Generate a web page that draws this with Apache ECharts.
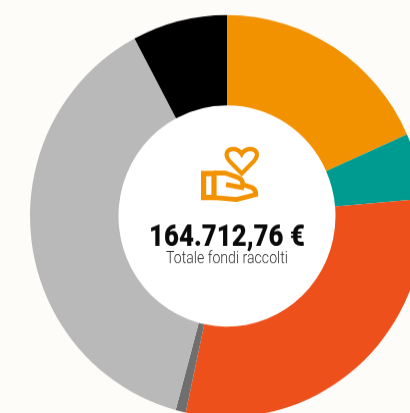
<!DOCTYPE html>
<html>
<head>
<meta charset="utf-8">
<style>
    html, body { margin: 0; padding: 0; background: #fdfcf8; width: 410px; height: 413px; }
    /* the reference donut is slightly taller than wide */
    #chart { width: 410px; height: 405px; transform: scaleY(1.02); transform-origin: 0 0; }
</style>
<script src="https://cdn.jsdelivr.net/npm/echarts@6/dist/echarts.min.js"></script>
</head>
<body>
<div id="chart"></div>
<script>
// values, they add up to the total in the middle
var sliceNames = ['A', 'B', 'C', 'D', 'E', 'F'];
var sliceValues = [30197, 8739, 48956, 1373, 62636, 12811.76];
var sliceColors = ['#f39200', '#009b90', '#ee501c', '#706f6f', '#b9b9b9', '#000000'];
var totalLabel = '164.712,76 €';
var subLabel = 'Totale fondi raccolti';

var stretch = 1.02;
var centerX = 227, centerY = 216 / stretch;

// hand + heart icon
echarts.graphic.registerShape('iconHeart', echarts.graphic.extendPath(
    'M241.7 173.5L229.5 161C224 154.5 227 149 233 149C237 149 240 151 241.7 154C243.4 151 246.4 149 250.5 149C256.5 149 259.5 154.5 254 161Z'
));
echarts.graphic.registerShape('iconCuff', echarts.graphic.extendPath(
    'M203.6 173.5H214V197.5H203.6Z'
));
echarts.graphic.registerShape('iconHand', echarts.graphic.extendPath(
    'M214 173L225 173L238 177.5C242 179 244 183 242 187.5L226 184.5M243 184.5L252 187.5C255 189 255.8 191 255.8 194.5L236.5 199.5L214 197.5'
));

var chartDom = document.getElementById('chart');
var myChart = echarts.init(chartDom);

myChart.setOption({
    animation: false,
    backgroundColor: '#fdfcf8',
    series: [
        {
            type: 'pie',
            center: [centerX, centerY],
            radius: [108.5, 197],
            startAngle: 90,
            silent: true,
            label: { show: false },
            labelLine: { show: false },
            data: sliceNames.map(function (name, i) {
                return { name: name, value: sliceValues[i], itemStyle: { color: sliceColors[i] } };
            })
        }
    ],
    graphic: [
        // white disc in the hole
        { type: 'circle', shape: { cx: centerX, cy: centerY, r: 108.7 }, style: { fill: '#fff' }, z: 1 },
        {
            // page coordinates inside this group
            type: 'group', scaleY: 1 / stretch, z: 2,
            children: [
                { type: 'iconHeart', z: 2, style: { fill: 'none', stroke: '#f39200', lineWidth: 4.2 } },
                { type: 'iconCuff', z: 2, style: { fill: 'none', stroke: '#f39200', lineWidth: 5.2 } },
                { type: 'iconHand', z: 2, style: { fill: 'none', stroke: '#f39200', lineWidth: 4.8 } },
                {
                    type: 'text', z: 2, x: centerX, y: 253, scaleX: 0.86,
                    style: {
                        text: totalLabel, fill: '#0a0a0a', align: 'center', verticalAlign: 'bottom',
                        font: '900 30px Roboto'
                    }
                },
                {
                    type: 'text', z: 2, x: centerX, y: 267, scaleX: 0.83,
                    style: {
                        text: subLabel, fill: '#333', align: 'center', verticalAlign: 'bottom',
                        font: '300 17px Roboto'
                    }
                }
            ]
        }
    ]
});
</script>
</body>
</html>
